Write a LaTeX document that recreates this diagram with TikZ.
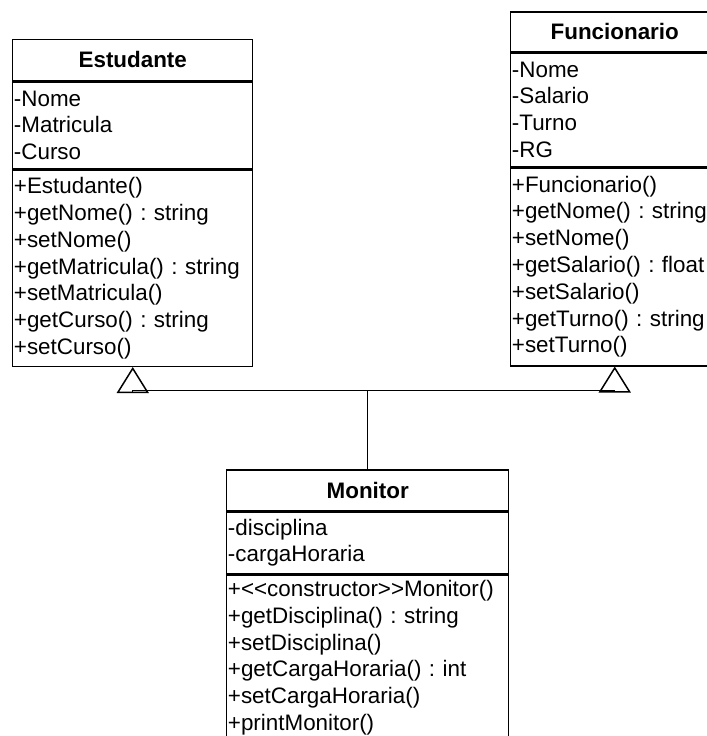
\documentclass[tikz,border=0pt]{standalone}
\usepackage{fontspec}
\setmainfont{Liberation Sans}
\usetikzlibrary{positioning,arrows.meta}
\frenchspacing

\begin{document}
\begin{tikzpicture}[
					x=0.5pt, y=-0.5pt,
					node distance=0pt,
					font=\fontsize{11.2}{13.4}\selectfont,
					classname/.style={rectangle,draw,line width=0.75pt,inner sep=0pt,
						font=\fontsize{11.2}{13.4}\selectfont\bfseries,anchor=north west},
					members/.style={rectangle,draw,line width=0.75pt,inner xsep=0.6pt,inner ysep=0pt,
						align=left},
					inherit/.style={line width=0.5pt,-{Triangle[open,width=16pt,length=13pt,line width=0.75pt]}},
					]
					\useasboundingbox (0,0) rectangle (707,736);
					% Estudante
					\node [classname,minimum width=120pt,minimum height=20.5pt] (est) at (12,38.5) {Estudante};
					\node [members,text width=118.8pt,minimum height=43.5pt,below=of est] (est-attr)
						{-Nome\\-Matricula\\-Curso};
					\node [members,text width=118.8pt,minimum height=98pt,below=of est-attr] (est-meth)
						{+Estudante()\\+getNome() : string\\+setNome()\\+getMatricula() : string\\
						+setMatricula()\\+getCurso() : string\\+setCurso()};
					% Funcionario
					\node [classname,minimum width=104pt,minimum height=20pt] (fun) at (510,11) {Funcionario};
					\node [members,text width=102.8pt,minimum height=56.5pt,below=of fun] (fun-attr)
						{-Nome\\-Salario\\-Turno\\-RG};
					\node [members,text width=102.8pt,minimum height=99pt,below=of fun-attr] (fun-meth)
						{+Funcionario()\\+getNome() : string\\+setNome()\\+getSalario() : float\\
						+setSalario()\\+getTurno() : string\\+setTurno()};
					% Monitor
					\node [classname,minimum width=141pt,minimum height=20.5pt] (mon) at (226,469) {Monitor};
					\node [members,text width=139.8pt,minimum height=30.5pt,below=of mon] (mon-attr)
						{-disciplina\\-cargaHoraria};
					\node [members,text width=139.8pt,minimum height=83pt,below=of mon-attr] (mon-meth)
						{+{<}{<}constructor{>}{>}Monitor()\\+getDisciplina() : string\\+setDisciplina()\\
						+getCargaHoraria() : int\\+setCargaHoraria()\\+printMonitor()};
					% heranca
					\coordinate (jn) at (mon.north |- 0,390);
					\draw[inherit] (mon.north) -- (jn) -| (est-meth.south);
					\draw[inherit] (jn) -| (fun-meth.south);
				\end{tikzpicture}
\end{document}
